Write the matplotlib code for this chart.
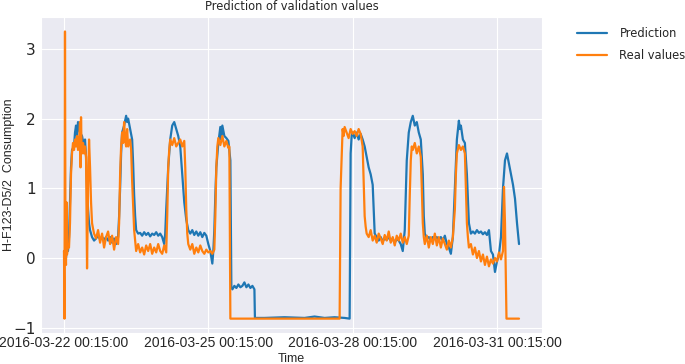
import matplotlib

matplotlib.use("Agg")
import matplotlib.pyplot as plt
import pandas as pd
import seaborn as sns

# hours after 2016-03-22 00:15:00
real_hours = [
    0, 0.25, 0.5, 0.75, 1.0, 1.25, 1.5, 2.0, 2.5, 3.0, 3.5, 4.0, 4.5, 5, 5.5, 6, 6.5, 7, 7.5, 8,
    8.25, 8.5, 8.75, 9, 9.5, 10, 10.5, 11, 11.5, 12, 12.5, 13, 13.5, 14, 14.5, 15,
    16, 17, 18, 19, 20, 21, 22, 23, 24, 25, 26, 27,
    27.5, 28, 28.5, 29, 29.5, 30, 30.5, 31, 31.5, 32, 32.5, 33, 33.5, 34, 35, 35.5, 36,
    37, 38, 39, 40, 41, 42, 43, 44, 45, 46, 47, 48, 49, 50, 51,
    51.5, 52, 52.5, 53, 54, 55, 56, 57, 58, 59, 60, 60.5, 61, 61.5, 62,
    63, 64, 65, 66, 67, 68, 69, 70, 71, 72, 73, 74, 75,
    75.5, 76, 76.5, 77, 78, 79, 80, 81, 82, 82.5, 83,
    137.5, 138, 139, 139.5, 140, 141, 142, 143, 144, 145, 146, 147, 148, 149, 149.5, 150, 150.5, 151,
    152, 153, 154, 155, 156, 157, 158, 159, 160, 161, 162, 163, 164, 165, 166, 167, 168, 169, 170, 171, 172,
    172.5, 173, 173.5, 174, 175, 176, 177, 178, 178.5, 179, 179.5,
    180, 181, 182, 183, 184, 185, 186, 187, 188, 189, 190, 191, 192, 193, 194,
    195, 195.5, 196, 197, 198, 199, 200, 200.5, 201, 201.5,
    202, 203, 204, 205, 206, 207, 208, 209, 210, 211, 212, 213, 214, 215,
    216, 217, 218, 219, 219.5, 220, 220.75, 227,
]
real_vals = [
    0.1, -0.87, 3.25, 0.1, -0.1, 0.8, 0.05, 0.2, 0.15, 0.5, 1.2, 1.5, 1.65, 1.55, 1.7, 1.6, 1.75, 1.55, 1.65, 1.95,
    1.3, 2.02, 1.6, 1.5, 1.65, 1.5, 1.6, 1.45, -0.15, 1.0, 1.7, 1.3, 0.8, 0.5, 0.42, 0.35,
    0.28, 0.4, 0.22, 0.35, 0.15, 0.3, 0.38, 0.2, 0.32, 0.12, 0.3, 0.2,
    0.5, 1.2, 1.6, 1.8, 1.65, 1.95, 1.7, 1.6, 1.85, 1.6, 1.65, 1.7, 1.55, 1.1, 0.4, 0.25, 0.1,
    0.2, 0.08, 0.15, 0.05, 0.18, 0.1, 0.2, 0.06, 0.15, 0.08, 0.2, 0.1, 0.06, 0.18, 0.08,
    0.6, 1.3, 1.55, 1.7, 1.62, 1.72, 1.6, 1.65, 1.7, 1.6, 1.68, 1.3, 0.7, 0.35, 0.2,
    0.12, 0.2, 0.06, 0.15, 0.08, 0.18, 0.1, 0.06, 0.12, 0.08, 0.1, 0.06, 0.12,
    0.6, 1.3, 1.6, 1.72, 1.62, 1.75, 1.6, 1.68, 1.58, 1.6, -0.87,
    -0.87, 1.0, 1.85, 1.75, 1.88, 1.8, 1.72, 1.85, 1.78, 1.82, 1.75, 1.85, 1.78, 1.6, 1.1, 0.6, 0.45, 0.35,
    0.3, 0.4, 0.25, 0.32, 0.22, 0.35, 0.28, 0.2, 0.33, 0.25, 0.38, 0.22, 0.3, 0.18, 0.32, 0.25, 0.35, 0.22, 0.3, 0.2, 0.32,
    0.9, 1.4, 1.6, 1.55, 1.65, 1.5, 1.6, 1.45, 1.0, 0.5, 0.3,
    0.2, 0.32, 0.15, 0.3, 0.2, 0.35, 0.18, 0.3, 0.15, 0.28, 0.2, 0.12, 0.25, 0.15, 0.3,
    0.7, 1.2, 1.5, 1.62, 1.55, 1.6, 1.5, 1.0, 0.5, 0.3,
    0.15, 0.2, 0.05, 0.15, 0.0, 0.1, -0.05, 0.05, -0.1, 0.02, -0.12, -0.02, -0.08, 0.0,
    -0.05, 0.08, -0.02, 0.1, 1.02, 0.5, -0.87, -0.87,
]

pred_hours = [
    0, 1, 1.5, 2, 2.5, 3, 3.5, 4, 5, 5.5, 6, 6.5, 7, 7.5, 8, 9, 10, 10.5, 11, 11.5, 12, 12.5, 13, 13.5,
    14, 15, 16, 17, 18, 19, 20, 21, 22, 23, 24, 25, 26, 27,
    27.5, 28, 28.5, 29, 30, 31, 31.5, 32, 33, 34, 34.5, 35, 35.5, 36, 37,
    38, 39, 40, 41, 42, 43, 44, 45, 46, 47, 48, 49, 50, 50.5,
    51, 52, 53, 54, 55, 56, 57, 58, 59, 60, 61, 62, 63,
    64, 65, 66, 67, 68, 69, 70, 71, 72, 73, 74, 74.5, 75, 75.5, 76, 77, 78, 78.5, 79, 80, 81, 82, 83,
    83.5, 84, 85, 86, 87, 88, 89, 90, 91, 92, 93, 94, 95, 95.25,
    100, 110, 120, 125, 130, 135, 140, 142.5, 143, 143.5,
    144, 145, 146, 147, 148, 149, 150, 151, 152, 153, 154, 155,
    156, 157, 158, 159, 160, 161, 162, 163, 164, 165, 166, 167, 168, 169,
    170, 170.5, 171, 172, 173, 174, 175, 176, 177, 178, 179, 179.5, 180,
    181, 182, 183, 184, 185, 186, 187, 188, 189, 190, 191, 192, 193,
    194, 195, 196, 197, 197.5, 198, 199, 200, 201, 202, 203,
    204, 205, 206, 207, 208, 209, 210, 211, 212, 213, 214, 215, 216, 217, 218,
    219, 220, 221, 222, 223, 224, 225, 226, 227,
]
pred_vals = [
    0.1, 0.0, 0.15, 0.1, 0.3, 0.8, 1.3, 1.55, 1.6, 1.8, 1.9, 1.75, 1.95, 1.85, 1.8, 1.75, 1.6, 1.7, 1.45, 1.0, 0.7, 0.5, 0.4, 0.35,
    0.3, 0.25, 0.28, 0.32, 0.27, 0.3, 0.26, 0.3, 0.25, 0.3, 0.22, 0.28, 0.2, 0.3,
    0.6, 1.0, 1.5, 1.8, 1.9, 2.04, 1.95, 2.0, 1.85, 1.7, 1.35, 0.9, 0.6, 0.4, 0.35,
    0.36, 0.32, 0.37, 0.33, 0.36, 0.31, 0.35, 0.33, 0.37, 0.32, 0.35, 0.3, 0.2, 0.35,
    0.7, 1.3, 1.7, 1.9, 1.95, 1.85, 1.75, 1.6, 1.2, 0.8, 0.55, 0.4, 0.35,
    0.4, 0.33, 0.38, 0.32, 0.37, 0.3, 0.36, 0.32, 0.2, 0.1, -0.08, 0.1, 0.4, 0.9, 1.3, 1.65, 1.88, 1.7, 1.9, 1.75, 1.72, 1.68, 1.4,
    -0.42, -0.45, -0.4, -0.43, -0.38, -0.42, -0.4, -0.35, -0.42, -0.38, -0.43, -0.4, -0.45, -0.86,
    -0.86, -0.85, -0.86, -0.84, -0.86, -0.85, -0.86, -0.87, 1.5, 1.75,
    1.8, 1.72, 1.8, 1.7, 1.78, 1.7, 1.6, 1.45, 1.3, 1.2, 1.05, 0.35,
    0.3, 0.25, 0.3, 0.24, 0.28, 0.26, 0.3, 0.25, 0.28, 0.22, 0.27, 0.25, 0.2, 0.1,
    0.4, 0.9, 1.4, 1.8, 1.95, 2.04, 1.9, 1.95, 1.8, 1.7, 1.2, 0.6, 0.35,
    0.28, 0.3, 0.25, 0.3, 0.27, 0.3, 0.26, 0.3, 0.25, 0.32, 0.2, 0.15, 0.06,
    0.3, 1.0, 1.7, 1.97, 1.85, 1.9, 1.7, 1.65, 1.2, 0.5, 0.35,
    0.38, 0.35, 0.4, 0.36, 0.38, 0.34, 0.37, 0.33, 0.4, 0.1, 0.05, -0.2, -0.05, 0.05, 0.3,
    1.0, 1.4, 1.5, 1.35, 1.2, 1.05, 0.85, 0.5, 0.2,
]

start = pd.Timestamp("2016-03-22 00:15:00")
tick_labels = ["2016-03-22 00:15:00", "2016-03-25 00:15:00", "2016-03-28 00:15:00", "2016-03-31 00:15:00"]

sns.set_style("darkgrid")
plt.rcParams["font.family"] = ["DejaVu Sans"]

fig = plt.figure(figsize=(6.85, 3.64), dpi=100)
ax = fig.add_axes([0.0602, 0.0852, 0.7307, 0.8678])

pred_t = start + pd.to_timedelta(pred_hours, unit="h")
real_t = start + pd.to_timedelta(real_hours, unit="h")
ax.plot(pred_t, pred_vals, color="#1f77b4", lw=1.6, label="Prediction")
ax.plot(real_t, real_vals, color="#ff7f0e", lw=1.6, label="Real values")

ax.set_xticks(pd.to_datetime(tick_labels))
ax.set_xticklabels(tick_labels, fontsize=10, family="Liberation Sans", color="#262626")
ax.set_yticks([-1, 0, 1, 2, 3])
ax.tick_params(axis="both", length=0)
ax.tick_params(axis="y", labelsize=11, labelcolor="#262626", pad=4)
ax.tick_params(axis="x", pad=2)
ax.set_xlabel("Time", fontsize=9, family="Liberation Sans", color="#262626", labelpad=2)
ax.set_ylabel("H-F123-D5/2  Consumption", fontsize=9, family="Liberation Sans", color="#262626")
ax.yaxis.set_label_coords(-0.052, 0.5)
ax.set_title("Prediction of validation values", fontsize=8.3, color="#262626", pad=5)

ax.legend(
    loc="upper left",
    bbox_to_anchor=(0.842, 0.926),
    bbox_transform=fig.transFigure,
    frameon=False,
    fontsize=8.3,
    borderpad=0,
    borderaxespad=0,
    handlelength=2.6,
    handletextpad=1.1,
    labelspacing=0.75,
)

fig.savefig("out.png", dpi=100, facecolor="white")
